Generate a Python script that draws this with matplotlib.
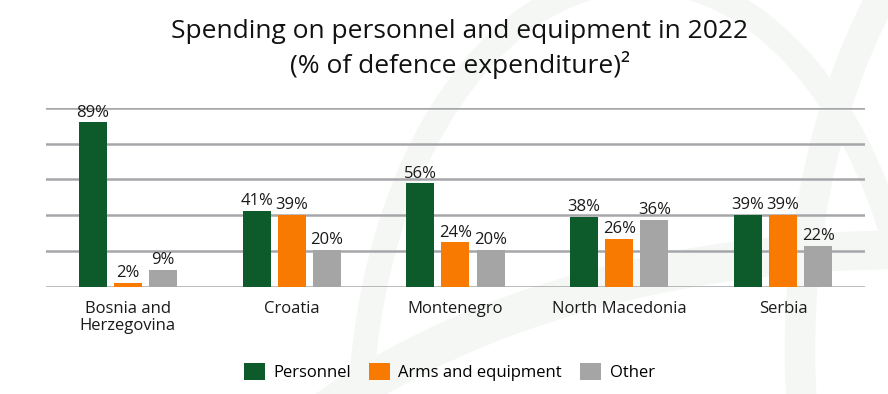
import numpy as np
import matplotlib.pyplot as plt
from matplotlib.patches import Ellipse

plt.rcParams['font.family'] = ['Open Sans', 'DejaVu Sans']

countries = ['Bosnia and\nHerzegovina', 'Croatia', 'Montenegro', 'North Macedonia', 'Serbia']
personnel = [89, 41, 56, 38, 39]
arms = [2, 39, 24, 26, 39]
other = [9, 20, 20, 36, 22]

green = '#0d5a2b'
orange = '#f97a00'
grey = '#a5a5a5'

fig = plt.figure(figsize=(8.88, 3.94), dpi=100)

# faint watermark curves in the background
bg = fig.add_axes([0, 0, 1, 1], zorder=-5)
bg.set_xlim(0, 888)
bg.set_ylim(394, 0)
bg.axis('off')
bg.add_patch(Ellipse((900, 700), 1500, 900, fill=False, lw=28, ec='#f5f7f5'))
bg.add_patch(Ellipse((1150, 350), 700, 1100, fill=False, lw=22, ec='#f5f7f5'))
bg.add_patch(Ellipse((640, 430), 560, 900, fill=False, lw=18, ec='#f5f7f5'))

ax = fig.add_axes([0.0518, 0.2723, 0.9222, 0.4543])
ax.patch.set_alpha(0)

x = np.arange(len(countries))
w = 0.171
off = 0.214
series = [(personnel, green, 'Personnel'), (arms, orange, 'Arms and equipment'), (other, grey, 'Other')]
for i, (vals, col, name) in enumerate(series):
    pos = x + (i - 1) * off
    bars = ax.bar(pos, vals, width=w, color=col, label=name, zorder=3)
    for p, v in zip(pos, vals):
        ax.text(p, v + 1.0, f'{v}%', ha='center', va='bottom', fontsize=12, color='#1a1a1a')

ax.set_xlim(-0.5, 4.5)
ax.set_ylim(0, 97)
ax.set_yticks(np.linspace(0, 97, 6))
ax.set_yticklabels([])
ax.tick_params(axis='y', length=0)
ax.grid(axis='y', color='#a6a6aa', lw=1.8, zorder=0)
ax.set_xticks(x)
ax.set_xticklabels(countries, fontsize=12, color='#1a1a1a', linespacing=1.1)
ax.tick_params(axis='x', length=0, pad=10)
for s in ax.spines.values():
    s.set_visible(False)

fig.text(0.518, 1 - 49 / 394, 'Spending on personnel and equipment in 2022\n(% of defence expenditure)²',
         ha='center', va='center', fontsize=19, linespacing=1.3, color='#111111')

fig.legend(loc='center', bbox_to_anchor=(0.506, 1 - 372 / 394), ncol=3, frameon=False,
           handlelength=1.25, handleheight=1.25, handletextpad=0.5, columnspacing=1.1, fontsize=12)

fig.savefig('out.png', dpi=100)
